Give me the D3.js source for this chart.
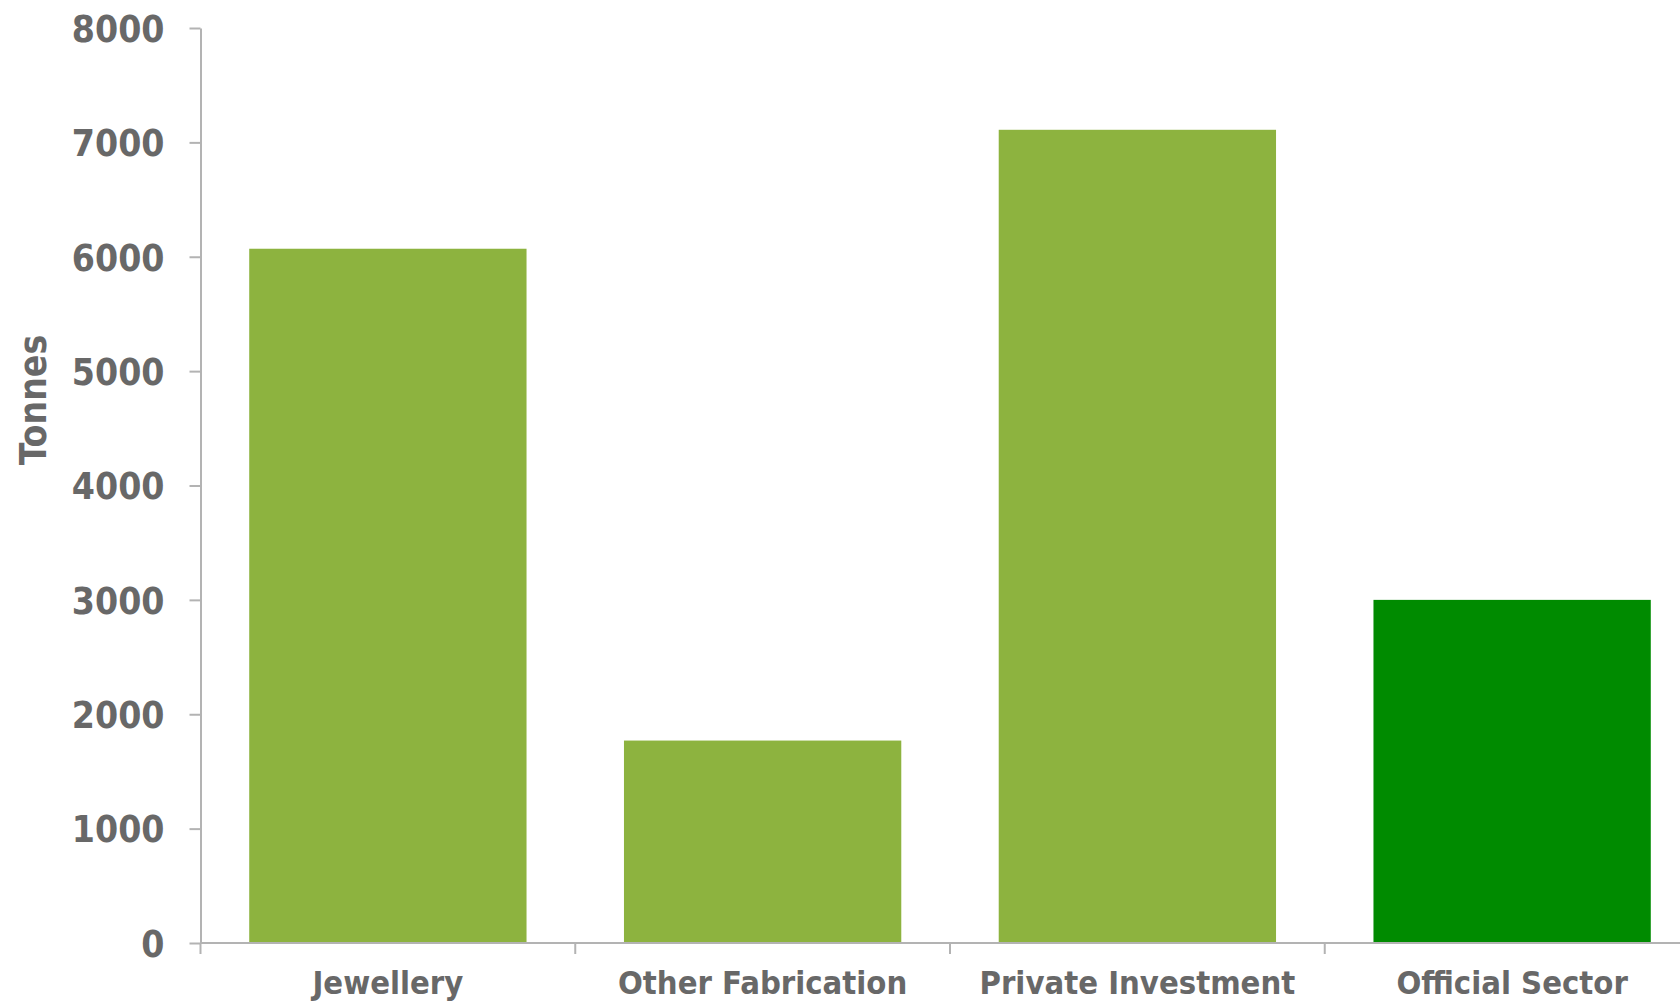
<!DOCTYPE html>
<html>
<head>
<meta charset="utf-8">
<script src="https://cdn.jsdelivr.net/npm/d3@7"></script>
<style>
  html, body { margin: 0; padding: 0; background: #fff; }
  svg { display: block; }
  .lbl { font-family: "DejaVu Sans Condensed", "DejaVu Sans", sans-serif; font-stretch: condensed; font-weight: bold; fill: #686868; }
</style>
</head>
<body>
<svg id="chart" width="1680" height="1003"></svg>
<script>
// Gold demand by sector, tonnes
const categories = ["Jewellery", "Other Fabrication", "Private Investment", "Official Sector"];
const tonnes = [6070, 1770, 7110, 3000];
const barColors = ["#8db33f", "#8db33f", "#8db33f", "#008b00"];
const yTicks = [0, 1000, 2000, 3000, 4000, 5000, 6000, 7000, 8000];
const yTitle = "Tonnes";

const svg = d3.select("#chart");
const axisColor = "#b3b3b3";
const fontSize = 37;

const y = d3.scaleLinear().domain([0, 8000]).range([943, 28]);
const x = d3.scaleBand().domain(categories).range([200.5, 1699.5]).padding(0);
const barFrac = 0.74;

// Bars
svg.append("g").selectAll("rect")
  .data(categories)
  .join("rect")
  .attr("x", (c) => x(c) + x.bandwidth() * (1 - barFrac) / 2)
  .attr("width", x.bandwidth() * barFrac)
  .attr("y", (c, i) => y(tonnes[i]))
  .attr("height", (c, i) => y(0) - y(tonnes[i]))
  .attr("fill", (c, i) => barColors[i]);

// Y axis
const yAxis = svg.append("g")
  .attr("transform", "translate(200.5,0)")
  .call(d3.axisLeft(y).tickValues(yTicks).tickSize(11).tickSizeOuter(0).tickPadding(25).tickFormat(d3.format("d")));
yAxis.select(".domain").attr("stroke", axisColor).attr("stroke-width", 2);
yAxis.selectAll(".tick line").attr("stroke", axisColor).attr("stroke-width", 2);
yAxis.selectAll(".tick text")
  .attr("class", "lbl")
  .attr("font-size", fontSize)
  .attr("dy", "0.36em");

// X axis: baseline, boundary ticks and centred category labels
const xAxis = svg.append("g").attr("transform", `translate(0,${y(0)})`);
xAxis.append("line")
  .attr("x1", 200.5).attr("x2", 1680)
  .attr("stroke", axisColor).attr("stroke-width", 2);
const edges = categories.map((c) => x(c)).concat([x.range()[1]]);
xAxis.selectAll("line.tk")
  .data(edges)
  .join("line")
  .attr("class", "tk")
  .attr("x1", (d) => d).attr("x2", (d) => d)
  .attr("y1", 0).attr("y2", 11)
  .attr("stroke", axisColor).attr("stroke-width", 2);
xAxis.selectAll("text")
  .data(categories)
  .join("text")
  .attr("class", "lbl")
  .attr("font-size", 32.5)
  .attr("text-anchor", "middle")
  .attr("x", (c) => x(c) + x.bandwidth() / 2)
  .attr("y", 51)
  .text((c) => c);

// Y axis title
svg.append("text")
  .attr("class", "lbl")
  .attr("font-size", fontSize)
  .attr("text-anchor", "middle")
  .attr("transform", "translate(46,400) rotate(-90)")
  .text(yTitle);
</script>
</body>
</html>
